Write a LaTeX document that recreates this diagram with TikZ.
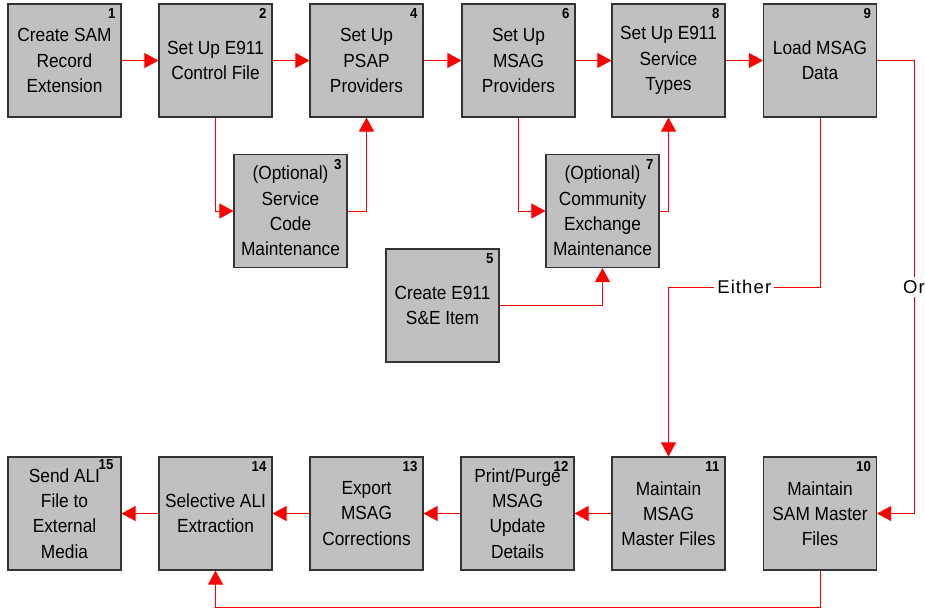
\documentclass[tikz,border=0pt]{standalone}
\usepackage{fontspec}
\setmainfont{Liberation Sans}[FakeStretch=0.91]
\newfontfamily\spacedfont{Liberation Sans}[LetterSpace=6]
\usetikzlibrary{arrows.meta}
\definecolor{boxgray}{HTML}{C0C0C0}
\definecolor{boxline}{HTML}{333333}
\tikzset{
  stepbox/.style={draw=boxline, line width=1.2pt, fill=boxgray, minimum width=113pt, minimum height=113pt,
    inner sep=0pt, align=center, font=\fontsize{19}{25.3}\selectfont},
  numlbl/.style={anchor=north east, inner sep=0pt, font=\fontsize{14.5}{15}\selectfont\bfseries},
  arr/.style={draw=red, line width=0.9pt, -{Triangle[length=14pt,width=15pt]}},
  conn/.style={draw=red, line width=0.9pt},
  lbl/.style={fill=white, inner sep=3pt, font=\fontsize{18.5}{20}\selectfont\spacedfont}
}
\begin{document}
\begin{tikzpicture}[x=1pt,y=-1pt]
\useasboundingbox (0,0) rectangle (925,611);
% top row
\node[stepbox] (b1) at (64.5,60.5) {Create SAM\\Record\\Extension};
\node[stepbox] (b2) at (215.5,60.5) {Set Up E911\\Control File};
\node[stepbox] (b4) at (366.5,60.5) {Set Up\\PSAP\\Providers};
\node[stepbox] (b6) at (518.5,60.5) {Set Up\\MSAG\\Providers};
\node[stepbox] (b8) at (668.5,60.5) {Set Up E911\\Service\\Types};
\node[stepbox] (b9) at (820,60.5) {Load MSAG\\Data};
% middle
\node[stepbox] (b3) at (290.5,211) {(Optional)\\Service\\Code\\Maintenance};
\node[stepbox] (b7) at (602.5,211) {(Optional)\\Community\\Exchange\\Maintenance};
\node[stepbox] (b5) at (442.5,305.5) {Create E911\\S\&E Item};
% bottom row
\node[stepbox] (b15) at (64.5,513.5) {Send ALI\\File to\\External\\Media};
\node[stepbox] (b14) at (215.5,513.5) {Selective ALI\\Extraction};
\node[stepbox] (b13) at (366.5,513.5) {Export\\MSAG\\Corrections};
\node[stepbox] (b12) at (517.5,513.5) {Print/Purge\\MSAG\\Update\\Details};
\node[stepbox] (b11) at (668.5,513.5) {Maintain\\MSAG\\Master Files};
\node[stepbox] (b10) at (820,513.5) {Maintain\\SAM Master\\Files};
% numbers
\foreach \b/\n in {b1/1,b2/2,b3/3,b4/4,b5/5,b6/6,b7/7,b8/8,b9/9,b10/10,b11/11,b12/12,b13/13,b14/14}
  \node[numlbl] (n\n) at ([xshift=-6pt,yshift=-5pt]\b.north east) {\n};
\node[numlbl] (n15) at ([xshift=-8pt,yshift=-3pt]b15.north east) {15};
% connectors top row
\draw[arr] (b1) -- (b2);
\draw[arr] (b2) -- (b4);
\draw[arr] (b4) -- (b6);
\draw[arr] (b6) -- (b8);
\draw[arr] (b8) -- (b9);
\draw[arr] (b2.south) |- (b3.west);
\draw[arr] (b3.east) -| (b4.south);
\draw[arr] (b6.south) |- (b7.west);
\draw[arr] (b7.east) -| (b8.south);
\draw[arr] (b5.east) -| (b7.south);
% Or branch
\coordinate (orx) at (914,60.5);
\draw[conn] (b9.east) -- (orx) -- node[lbl] (orl) {Or} (orx |- b10.east);
\draw[arr] (orx |- b10.east) -- (b10.east);
% Either branch
\coordinate (ey) at (820,287);
\draw[conn] (b9.south) -- (ey) -- node[lbl] (eil) {Either} (ey -| b11.north);
\draw[arr] (ey -| b11.north) -- (b11.north);
% bottom row
\draw[arr] (b11) -- (b12);
\draw[arr] (b12) -- (b13);
\draw[arr] (b13) -- (b14);
\draw[arr] (b14) -- (b15);
\coordinate (by) at (820,607);
\draw[arr] (b10.south) -- (by) -| (b14.south);
\end{tikzpicture}
\end{document}
